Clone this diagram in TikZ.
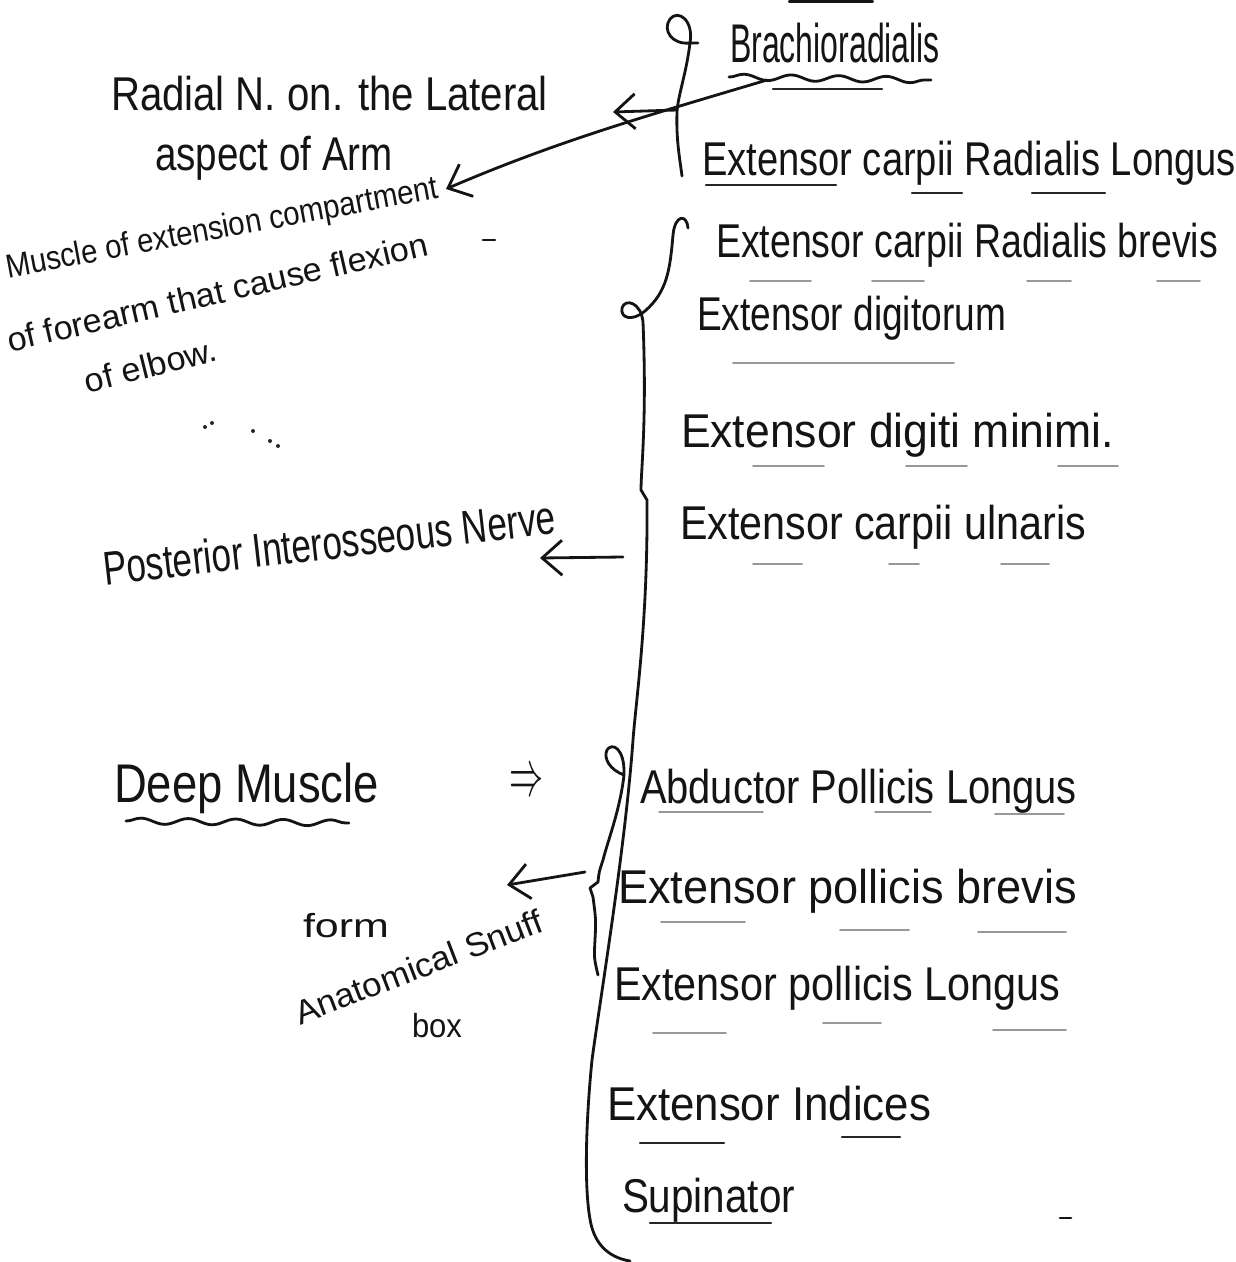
\documentclass[tikz,border=0pt]{standalone}
\usepackage{fontspec}
\setmainfont{Liberation Sans}
\usetikzlibrary{arrows.meta,decorations.pathmorphing}
% stretch a line of text to a given width (in page pixels), keeping its height
\newcommand\hw[2]{\resizebox{\dimexpr0.02cm*#1\relax}{\height}{#2}}
\begin{document}
\begin{tikzpicture}[x=0.02cm,y=-0.02cm,
  font=\fontsize{27}{32}\selectfont,
  ink/.style={line width=1.6pt,line cap=round,line join=round,black!92},
  faint/.style={line width=1.1pt,line cap=round,black!40},
  under/.style={line width=1.3pt,line cap=round,black!85},
  lbl/.style={anchor=base west,inner sep=0pt,outer sep=0pt,text=black!92},
  small/.style={font=\fontsize{19}{23}\selectfont},
  big/.style={font=\fontsize{31}{36}\selectfont},
  handarrow/.style={ink,-{Straight Barb[length=4mm,width=7mm,line width=1.6pt]}},
  wavy/.style={ink,decorate,decoration={snake,amplitude=0.06cm,segment length=0.95cm}}]
\useasboundingbox (0,0) rectangle (1236,1262);
\fill[white] (0,0) rectangle (1236,1262);

% ---- heading remnant at the top edge
\draw[ink,line width=2.2pt] (790,1.5) -- (872,1.5);

% ---- superficial group (right column)
\node[lbl,big] (brach) at (730,62) {\hw{210}{Brachioradialis}};
\node[lbl] (ecrl)  at (702,175) {\hw{534}{Extensor carpii Radialis Longus}};
\node[lbl] (ecrb)  at (716,257) {\hw{502}{Extensor carpii Radialis brevis}};
\node[lbl] (ed)    at (697,330) {\hw{309}{Extensor digitorum}};
\node[lbl] (edm)   at (681,447) {\hw{433}{Extensor digiti minimi.}};
\node[lbl] (ecu)   at (680,539) {\hw{406}{Extensor carpii ulnaris}};

% ---- deep group (right column)
\node[lbl] (apl) at (640,803)  {\hw{437}{Abductor Pollicis Longus}};
\node[lbl] (epb) at (618,903)  {\hw{459}{Extensor pollicis brevis}};
\node[lbl] (epl) at (614,1000) {\hw{446}{Extensor pollicis Longus}};
\node[lbl] (ei)  at (607,1120) {\hw{324}{Extensor Indices}};
\node[lbl] (sup) at (622,1212) {\hw{173}{Supinator}};

% ---- notes on the left
\node[lbl] (radial) at (111,110) {\hw{437}{Radial N. on. the Lateral}};
\node[lbl] (aspect) at (155,170) {\hw{238}{aspect of Arm}};
\node[lbl,small,rotate=10.5] (musc1) at (8,278)  {\hw{439}{Muscle of extension compartment}};
\node[lbl,small,rotate=13]   (musc2) at (10,352) {\hw{431}{of forearm that cause flexion}};
\node[lbl,small,rotate=14]   (musc3) at (88,393) {\hw{135}{of elbow.}};
\node[lbl,rotate=6.5] (pin) at (105,585) {\hw{455}{Posterior Interosseous Nerve}};
\node[lbl,big] (deep) at (114,802) {\hw{265}{Deep Muscle}};
\node[lbl] (implies) at (509,795)
  {\resizebox{\dimexpr0.02cm*34\relax}{\dimexpr0.02cm*24\relax}{$\Rightarrow$}};
\node[lbl,small] (form) at (303,937) {\hw{86}{form}};
\node[lbl,small,rotate=21] (snuff) at (300,1025) {\hw{263}{Anatomical Snuff}};
\node[lbl,small] (box) at (412,1037) {\hw{50}{box}};

% ---- underlines
\draw[wavy] (729,77) -- (931,80);
\draw[under] (773,89) -- (882,89);
\draw[wavy] (126,821) -- (349,823);
\draw[under] (706,185) -- (836,185);
\draw[under] (912,193) -- (962,193);
\draw[under] (1032,193) -- (1105,193);
\draw[under] (640,1143) -- (724,1143);
\draw[under] (842,1137) -- (900,1137);
\draw[under] (650,1223) -- (771,1223);
\foreach \a/\b/\y in {750/811/281,872/924/281,1027/1071/281,1157/1200/281,
  733/954/363,753/824/466,906/967/466,1058/1118/466,
  753/802/564,889/919/564,1001/1049/564,
  659/763/812,875/931/812,995/1064/814,
  661/745/922,840/909/930,978/1066/932,
  653/726/1033,823/881/1023,993/1066/1030}
  \draw[faint] (\a,\y) -- (\b,\y);
\draw[ink] (483,240) -- (495,240);
\draw[ink] (1060,1218) -- (1071,1218);
\foreach \p in {(205,427),(212,423),(253,431),(270,441),(278,446)}
  \fill[black!85] \p circle (2);

% ---- brackets
% short bracket for Brachioradialis / ECRL
\draw[ink] (698,43) -- (690,43)
  .. controls (672,45) and (662,30) .. (670,19)
  .. controls (678,9) and (694,20) .. (690,43)
  .. controls (686,75) and (678,95) .. (677,112)
  .. controls (676,140) and (680,160) .. (682,176);
% long bracket for the remaining extensors and the deep group
\draw[ink] (688,228)
  .. controls (687,214) and (675,214) .. (673,235)
  .. controls (670,270) and (667,292) .. (645,311)
  .. controls (632,322) and (620,318) .. (622,308)
  .. controls (625,298) and (641,302) .. (643,322)
  .. controls (647,420) and (641,470) .. (641,490)
  -- (647,500)
  .. controls (648,620) and (636,700) .. (633,740)
  .. controls (625,850) and (600,1000) .. (592,1060)
  .. controls (585,1130) and (584,1200) .. (592,1228)
  .. controls (598,1248) and (612,1258) .. (630,1261);
% second stroke beside the deep group
\draw[ink] (624,775)
  .. controls (610,770) and (603,758) .. (607,750)
  .. controls (612,742) and (625,748) .. (624,775)
  .. controls (620,810) and (608,840) .. (603,860)
  .. controls (599,872) .. (598,882) -- (590,888) -- (593,897)
  .. controls (596,920) .. (595,940)
  .. controls (594,958) .. (598,975);

% ---- connectors
\coordinate (bA) at (677,110);
\coordinate (tipA) at (613,112);
\draw[handarrow] (bA) -- (tipA);
\coordinate (brachFoot) at (767,80);
\coordinate (radialTip) at (446,189);
\draw[handarrow] (brachFoot) .. controls (650,115) and (560,140) .. (radialTip);
\coordinate (pinStart) at (623,557);
\coordinate (pinTip) at (540,558);
\draw[handarrow] (pinStart) -- (pinTip);
\coordinate (notch) at (585,872);
\coordinate (formTip) at (507,885);
\draw[handarrow] (notch) -- (formTip);
\end{tikzpicture}
\end{document}
